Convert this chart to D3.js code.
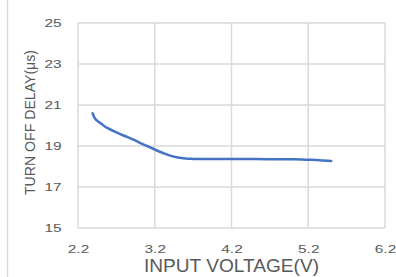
<!DOCTYPE html>
<html>
<head>
<meta charset="utf-8">
<script src="https://cdn.jsdelivr.net/npm/d3@7"></script>
<style>
  body { margin: 0; background: #fff; }
  text { font-family: "Liberation Sans", Arial, sans-serif; fill: #595959; }
</style>
</head>
<body>
<div id="chart"></div>
<script>
// turn-off delay vs input voltage
const voltage = [2.39, 2.42, 2.46, 2.5, 2.55, 2.6, 2.7, 2.8, 2.9, 3.0, 3.1, 3.2, 3.3, 3.4, 3.5, 3.6, 3.7, 3.8, 4.0, 4.5, 5.0, 5.2, 5.35, 5.5];
const delay = [20.6, 20.35, 20.2, 20.1, 19.95, 19.85, 19.67, 19.5, 19.35, 19.17, 19.0, 18.83, 18.67, 18.53, 18.44, 18.39, 18.37, 18.36, 18.36, 18.36, 18.35, 18.33, 18.31, 18.27];
const xTicks = [2.2, 3.2, 4.2, 5.2, 6.2];
const yTicks = [15, 17, 19, 21, 23, 25];

const width = 396, height = 277;
const margin = { top: 23, right: 11, bottom: 49, left: 78 };
const innerWidth = width - margin.left - margin.right;
const innerHeight = height - margin.top - margin.bottom;
const stretch = 1.47; // tick digits in the reference are drawn wide

const svg = d3.select("#chart")
    .append("svg")
    .attr("width", width)
    .attr("height", height);

// chart frame edge on the left
svg.append("line")
    .attr("x1", 7.5).attr("x2", 7.5)
    .attr("y1", 0).attr("y2", height)
    .attr("stroke", "#d9d9d9")
    .attr("stroke-width", 1.5);

const g = svg.append("g")
    .attr("transform", `translate(${margin.left},${margin.top})`);

const xScale = d3.scaleLinear().domain([2.2, 6.2]).range([0, innerWidth]);
const yScale = d3.scaleLinear().domain([15, 25]).range([innerHeight, 0]);

// grid
g.selectAll(".vgrid")
    .data(xTicks)
    .enter()
    .append("line")
    .attr("x1", d => xScale(d)).attr("x2", d => xScale(d))
    .attr("y1", 0).attr("y2", innerHeight)
    .attr("stroke", "#d9d9d9")
    .attr("stroke-width", 1.5);

g.selectAll(".hgrid")
    .data(yTicks)
    .enter()
    .append("line")
    .attr("x1", 0).attr("x2", innerWidth)
    .attr("y1", d => yScale(d)).attr("y2", d => yScale(d))
    .attr("stroke", "#d9d9d9")
    .attr("stroke-width", 1.5);

// X axis
const xAxis = g.append("g")
    .attr("transform", `translate(0,${innerHeight})`)
    .call(d3.axisBottom(xScale).tickValues(xTicks).tickFormat(d3.format(".1f")).tickSize(0));
xAxis.select(".domain").remove();
xAxis.selectAll("text")
    .attr("font-size", 10.5)
    .attr("fill", "#595959")
    .attr("dy", null)
    .attr("y", 25)
    .attr("transform", `scale(${stretch},1)`);

// Y axis
const yAxis = g.append("g")
    .call(d3.axisLeft(yScale).tickValues(yTicks).tickSize(0));
yAxis.select(".domain").remove();
yAxis.selectAll("text")
    .attr("font-size", 10.5)
    .attr("fill", "#595959")
    .attr("x", -16.3 / stretch)
    .attr("transform", `scale(${stretch},1)`);

// curve
const line = d3.line()
    .x((d, i) => xScale(voltage[i]))
    .y(d => yScale(d))
    .curve(d3.curveMonotoneX);

g.append("path")
    .datum(delay)
    .attr("fill", "none")
    .attr("stroke", "#4472c4")
    .attr("stroke-width", 2.5)
    .attr("stroke-linecap", "round")
    .attr("d", line);

// X axis label
svg.append("text")
    .attr("x", 144)
    .attr("y", 271.5)
    .attr("font-size", 17.5)
    .attr("textLength", 175)
    .attr("lengthAdjust", "spacingAndGlyphs")
    .text("INPUT VOLTAGE(V)");

// Y axis label
svg.append("text")
    .attr("transform", "rotate(-90)")
    .attr("x", -195)
    .attr("y", 35)
    .attr("font-size", 14.5)
    .attr("textLength", 145)
    .attr("lengthAdjust", "spacingAndGlyphs")
    .text("TURN OFF DELAY(μs)");
</script>
</body>
</html>
